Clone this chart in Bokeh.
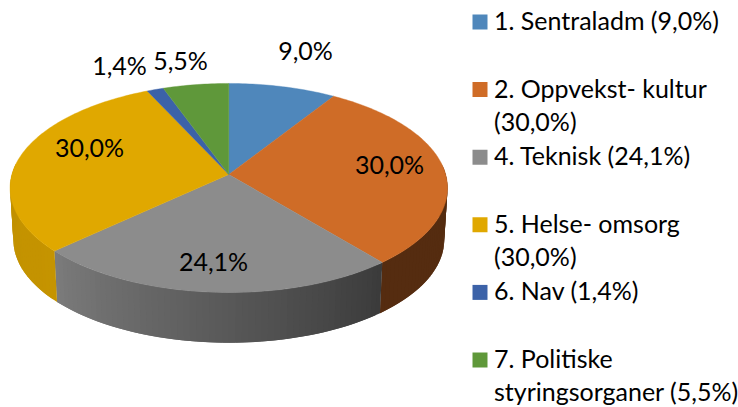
import math
from bokeh.plotting import figure
from bokeh.models import Range1d
from bokeh.core.properties import value
from bokeh.embed import file_html
from bokeh.resources import INLINE

# Data
legend_names = ["1. Sentraladm (9,0%)", "2. Oppvekst- kultur\n(30,0%)", "4. Teknisk (24,1%)",
                "5. Helse- omsorg\n(30,0%)", "6. Nav (1,4%)", "7. Politiske\nstyringsorganer (5,5%)"]
shares = [9.0, 30.0, 24.1, 30.0, 1.4, 5.5]
share_labels = ["9,0%", "30,0%", "24,1%", "30,0%", "1,4%", "5,5%"]

# Styles and layout
colors = ["#4f87bb", "#cf6c27", "#8c8c8c", "#e0a800", "#3c62a8", "#5f983a"]
label_x = [305, 389, 213, 89, 119, 180]
label_y = [49.5, 163.5, 260.5, 146.5, 64.5, 59.5]
# side brightness at the start and end of each slice, in clockwise order
side_shade = {1: (0.41, 0.41), 2: (0.42, 0.88), 3: (0.88, 0.86)}
CX, CY, RX, RY, K = 228.3, 174.0, 216.9, 102.8, 0.129
LOWER_DY, LOWER_S = 52.0, 0.985
FONT = "Lato"
FS = "25px"
W, H = 738, 407


def top_pt(a, dy=0.0, s=1.0):
    u, v = math.sin(a), -math.cos(a)
    d = 1 - K * v
    return CX + s * RX * u / d, CY + dy + s * RY * v / d


def shade(hex_color, f):
    r, g, b = (int(hex_color[i:i + 2], 16) for i in (1, 3, 5))
    return "#%02x%02x%02x" % (round(r * f), round(g * f), round(b * f))


p = figure(width=W, height=H, output_backend="svg", toolbar_location=None,
           x_range=Range1d(0, W), y_range=Range1d(H, 0),
           min_border=0, outline_line_color=None, background_fill_color="white",
           border_fill_color="white")
p.axis.visible = False
p.grid.visible = False

total = sum(shares)
edges = [0.0]
for s in shares:
    edges.append(edges[-1] + 2 * math.pi * s / total)

# Side wall, drawn strip by strip; each strip runs under the next one
sx, sy, sc = [], [], []
vis0, vis1 = math.radians(84), math.radians(276)
for i, (f0, f1) in side_shade.items():
    a0, a1 = max(edges[i], vis0), min(edges[i + 1], vis1)
    n = max(2, int((a1 - a0) / math.radians(1.5)))
    for j in range(n):
        b0 = a0 + (a1 - a0) * j / n
        b1 = a0 + (a1 - a0) * (j + 2) / n if j < n - 1 else a1
        t0 = top_pt(b0); t1 = top_pt(b1)
        l0 = top_pt(b0, LOWER_DY, LOWER_S); l1 = top_pt(b1, LOWER_DY, LOWER_S)
        sx.append([t0[0], t1[0], l1[0], l0[0]])
        sy.append([t0[1], t1[1], l1[1], l0[1]])
        sc.append(shade(colors[i], f0 + (f1 - f0) * (j + 0.5) / n))
p.patches(sx, sy, fill_color=sc, line_color=None)

# Top face
tx, ty = [], []
for i in range(len(shares)):
    n = max(4, int((edges[i + 1] - edges[i]) / math.radians(1)))
    pts = [top_pt(edges[i] + (edges[i + 1] - edges[i]) * j / n) for j in range(n + 1)]
    tx.append([CX] + [q[0] for q in pts])
    ty.append([CY] + [q[1] for q in pts])
p.patches(tx, ty, fill_color=colors, line_color=colors, line_width=0.4)

# Data labels
p.text(label_x, label_y, text=share_labels, text_font=value(FONT), text_font_size=value(FS),
       text_color="#000000", text_align="center", text_baseline="middle")

# Legend
ROW0, PITCH, LINE = 19.5, 67.6, 33.0
lx, ly, lt = [], [], []
qy = []
for i, name in enumerate(legend_names):
    y = ROW0 + PITCH * i
    qy.append(y + 2.0)
    for j, part in enumerate(name.split("\n")):
        lx.append(493.5); ly.append(y + j * LINE); lt.append(part)
p.rect([479.5] * len(qy), qy, width=15, height=15, fill_color=colors, line_color=None)
p.text(lx, ly, text=lt, text_font=value(FONT), text_font_size=value(FS),
       text_color="#000000", text_align="left", text_baseline="middle")

open("out.html", "w").write(file_html(p, INLINE))
